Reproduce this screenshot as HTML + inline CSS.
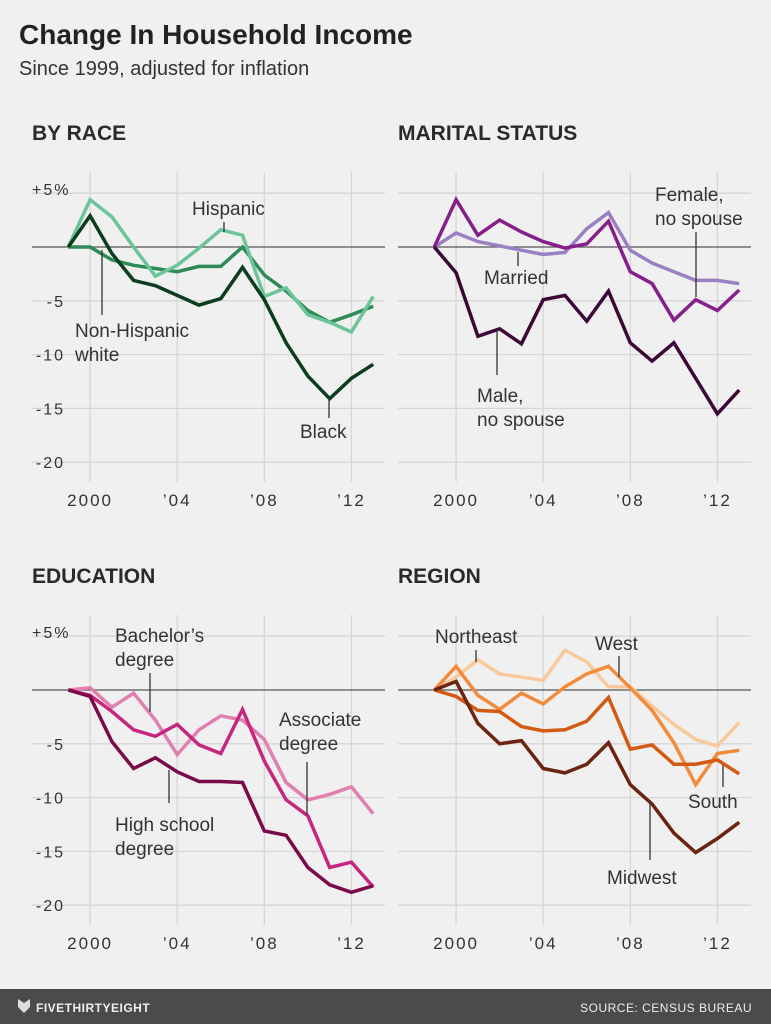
<!DOCTYPE html>
<html><head><meta charset="utf-8"><style>
body{margin:0;background:#f0f0f0;width:771px;height:1024px;overflow:hidden;font-family:"Liberation Sans",sans-serif}
svg{position:absolute;left:0;top:0}
</style></head><body>
<svg width="771" height="1024" id="chart">
<rect x="0" y="0" width="771" height="1024" fill="#f0f0f0"/>
<text x="19" y="44" font-size="28" font-weight="bold" fill="#222">Change In Household Income</text>
<text x="19" y="75" font-size="20" fill="#333">Since 1999, adjusted for inflation</text>
<rect x="0" y="989" width="771" height="35" fill="#4b4b4b"/>
<path d="M18 999 l6 4 l6 -4 v8 l-6 6 l-6 -6z" fill="#ddd"/>
<text x="36" y="1012" font-size="12" fill="#eee" font-weight="bold" letter-spacing="0.5">FIVETHIRTYEIGHT</text>
<text x="752" y="1012" font-size="12" fill="#eee" text-anchor="end" letter-spacing="0.5">SOURCE: CENSUS BUREAU</text>
<g id="panels"></g>
</svg>
<script>
const years=[1999,2000,2001,2002,2003,2004,2005,2006,2007,2008,2009,2010,2011,2012,2013];
const yTicks=[5,0,-5,-10,-15,-20];
const yTickLabels=["+5%","0","-5","-10","-15","-20"];
const xTicks=[2000,2004,2008,2012];
const xTickLabels=["2000","\u200904","\u200908","\u200912"];
// By race
const hispanic=[0,4.4,2.8,0,-2.7,-1.7,-0.1,1.6,1.1,-4.6,-3.8,-6.3,-7.0,-7.9,-4.6];
const nonHispWhite=[0,0,-1.2,-1.7,-2.0,-2.3,-1.8,-1.8,0,-2.6,-4.1,-5.9,-7.0,-6.3,-5.5];
const black=[0,2.9,-0.6,-3.1,-3.6,-4.5,-5.4,-4.8,-1.9,-4.9,-8.9,-12.0,-14.1,-12.2,-10.9];
// Marital status
const married=[0,1.3,0.5,0.1,-0.3,-0.7,-0.5,1.7,3.2,-0.3,-1.5,-2.3,-3.1,-3.1,-3.4];
const femaleNoSpouse=[0,4.4,1.1,2.5,1.4,0.5,-0.1,0.3,2.4,-2.3,-3.4,-6.8,-4.9,-5.9,-4.0];
const maleNoSpouse=[0,-2.4,-8.3,-7.6,-9.0,-4.9,-4.5,-6.9,-4.1,-8.9,-10.6,-8.9,-12.2,-15.5,-13.3];
// Education
const bachelors=[0,0.2,-1.6,-0.3,-2.8,-6.0,-3.7,-2.4,-2.8,-4.6,-8.6,-10.2,-9.7,-9.0,-11.5];
const associate=[0,-0.5,-2.0,-3.7,-4.3,-3.2,-5.1,-5.9,-1.8,-6.6,-10.2,-11.7,-16.5,-16.0,-18.3];
const highSchool=[0,-0.6,-4.8,-7.3,-6.3,-7.6,-8.5,-8.5,-8.6,-13.1,-13.5,-16.5,-18.1,-18.8,-18.2];
// Region
const northeast=[0,1.2,2.8,1.5,1.2,0.9,3.7,2.6,0.3,0.3,-1.5,-3.2,-4.6,-5.2,-3.0];
const west=[0,2.2,-0.5,-1.8,-0.3,-1.3,0.3,1.5,2.2,0.2,-1.9,-4.9,-8.8,-5.9,-5.6];
const south=[0,-0.6,-1.9,-2.0,-3.4,-3.8,-3.7,-2.9,-0.7,-5.5,-5.1,-6.9,-6.9,-6.5,-7.8];
const midwest=[0,0.8,-3.1,-5.0,-4.7,-7.3,-7.7,-6.9,-4.9,-8.8,-10.6,-13.3,-15.1,-13.8,-12.3];

const NS="http://www.w3.org/2000/svg";
const root=document.getElementById('panels');
function mk(tag,attrs,parent,text){const e=document.createElementNS(NS,tag);for(const k in attrs)e.setAttribute(k,attrs[k]);if(text!==undefined)e.textContent=text;parent.appendChild(e);return e;}

const panels=[
 {name:'by-race',title:'BY RACE',ox:0,oy:0,showY:true,series:[[nonHispWhite,'#2e8b57','non-hispanic-white-line'],[hispanic,'#6cc49a','hispanic-line'],[black,'#0b3d1e','black-line']],
  labels:[[192,215,['Hispanic'],224,222,232],[75,337,['Non-Hispanic','white'],102,250,315],[300,438,['Black'],329,398,418]]},
 {name:'marital-status',title:'MARITAL STATUS',ox:366,oy:0,showY:false,series:[[married,'#9a7fc2','married-line'],[femaleNoSpouse,'#861f8a','female-no-spouse-line'],[maleNoSpouse,'#3b0838','male-no-spouse-line']],
  labels:[[655,201,['Female,','no spouse'],696,232,297],[484,284,['Married'],518,252,266],[477,402,['Male,','no spouse'],497,330,375]]},
 {name:'education',title:'EDUCATION',ox:0,oy:443,showY:true,series:[[bachelors,'#e07fb0','bachelors-line'],[associate,'#c7267f','associate-line'],[highSchool,'#7a0a4a','high-school-line']],
  labels:[[115,642,["Bachelor\u2019s",'degree'],150,673,712],[279,726,['Associate','degree'],307,762,815],[115,831,['High school','degree'],169,770,803]]},
 {name:'region',title:'REGION',ox:366,oy:443,showY:false,series:[[northeast,'#f8c99b','northeast-line'],[west,'#f28c3c','west-line'],[south,'#d45a12','south-line'],[midwest,'#6b2410','midwest-line']],
  labels:[[435,643,['Northeast'],476,650,662],[595,650,['West'],619,656,677],[688,808,['South'],723,765,787],[607,884,['Midwest'],650,800,860]]}
];

panels.forEach(p=>{
  const g=mk('g',{},root);
  
  
  const xs=y=>p.ox+68.3+(y-1999)*21.78;
  const ys=v=>p.oy+247-v*10.76;
  const t=mk('text',{x:p.ox+32,y:p.oy+140,'font-size':21,'font-weight':'bold',fill:'#2a2a2a'},g,p.title);
  
  
  xTicks.forEach((yr,i)=>{
    const l=mk('line',{x1:xs(yr),x2:xs(yr),y1:p.oy+172,y2:p.oy+482,stroke:'#d6d6d6','stroke-width':1.3},g);
    
    
    const tl=mk('text',{x:xs(yr),y:p.oy+506,'font-size':17,fill:'#333','text-anchor':'middle','letter-spacing':'2'},g,i===0?xTickLabels[i]:"\u2019"+xTickLabels[i].slice(1));
    
    
  });
  yTicks.forEach((v,i)=>{
    const l=mk('line',{x1:p.ox+32,x2:p.ox+385,y1:ys(v),y2:ys(v),stroke:v===0?'#555':'#d6d6d6','stroke-width':1.3},g);
    
    
    if(p.showY&&v!==0){
      const tl=mk('text',{x:p.ox+(v===5?32:65),y:ys(v)+(v===5?2:6),'font-size':16,fill:'#333','text-anchor':v===5?'start':'end','letter-spacing':'2'},g,yTickLabels[i]);
      
      
    }
  });
  p.series.forEach(s=>{
    const d=s[0].map((v,i)=>(i?'L':'M')+xs(years[i]).toFixed(1)+' '+ys(v).toFixed(1)).join(' ');
    const path=mk('path',{d:d,fill:'none',stroke:s[1],'stroke-width':3.5,'stroke-linejoin':'miter'},g);
    
    
  });
  p.labels.forEach(lb=>{
    const ld=mk('line',{x1:lb[3],x2:lb[3],y1:lb[4],y2:lb[5],stroke:'#333','stroke-width':1.3},g);
    
    
    lb[2].forEach((txt,k)=>{
      const tt=mk('text',{x:lb[0],y:lb[1]+k*24,'font-size':19,fill:'#333'},g,txt);
      
      
    });
  });
});
</script>
</body></html>
